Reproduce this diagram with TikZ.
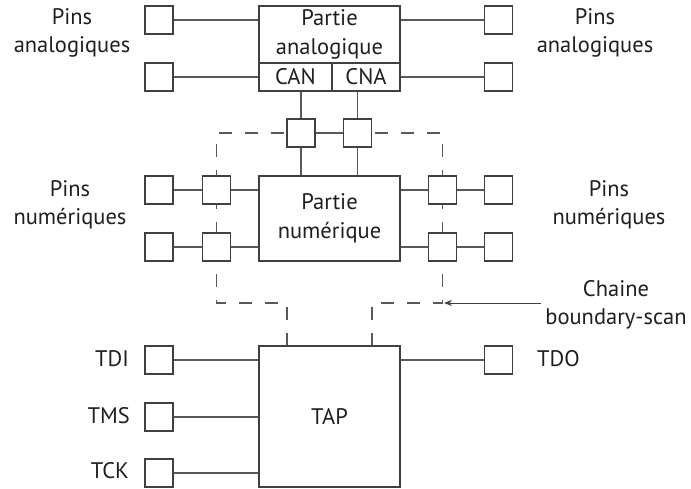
\documentclass[tikz,border=0pt]{standalone}
\usepackage{fontspec}
\setmainfont{PT Sans}
\usetikzlibrary{arrows.meta,calc}
\begin{document}
\begin{tikzpicture}[x=1pt,y=-1pt,
  every node/.style={font=\fontsize{22.5}{28.5}\selectfont, text=black!88, inner sep=0pt},
  pin/.style={draw=black!75, line width=1.1pt, fill=white, minimum width=28pt, minimum height=28pt},
  blk/.style={draw=black!75, line width=1.1pt, fill=white, align=center},
  wire/.style={draw=black!65, line width=1.1pt},
  chain/.style={draw=black!65, line width=1.1pt, dash pattern=on 13pt off 13pt},
  lbl/.style={align=center}]
\useasboundingbox (0,0) rectangle (691,488);

% dashed boundary-scan chain (drawn first, cells sit on top)
\coordinate (tapin) at (287,346);
\coordinate (tapout) at (372,346);
\coordinate (c1) at (287,303);
\coordinate (c2) at (216.5,303);
\coordinate (c3) at (216.5,133);
\coordinate (c4) at (442.5,133);
\coordinate (c5) at (442.5,303);
\coordinate (c6) at (372,303);
\draw[chain] (tapin) -- (c1) -- (c2) -- (c3) -- (c4) -- (c5) -- (c6) -- (tapout);

% analog part
\node[blk, minimum width=141pt, minimum height=57pt] (pa) at (329.5,34.5) {Partie\\analogique};
\node[blk, minimum width=73pt, minimum height=28pt] (can) at (295.5,77) {CAN};
\node[blk, minimum width=68pt, minimum height=28pt] (cna) at (366,77) {CNA};

\node[pin] (la1) at (159,20) {};
\node[pin] (la2) at (159,77) {};
\node[pin] (ra1) at (498.5,20) {};
\node[pin] (ra2) at (498.5,77) {};
\draw[wire] (la1.east) -- (la1.east -| pa.west);
\draw[wire] (la2.east) -- (can.west);
\draw[wire] (ra1.west) -- (ra1.west -| pa.east);
\draw[wire] (ra2.west) -- (cna.east);

% digital part
\node[blk, minimum width=141pt, minimum height=85pt] (pn) at (329.5,218.5) {Partie\\numérique};

\node[pin] (tc1) at (301,133) {};
\node[pin] (tc2) at (357.5,133) {};
\draw[wire] (tc1.north) -- (tc1.north |- can.south);
\draw[wire] (tc2.north) -- (tc2.north |- cna.south);
\draw[wire] (tc1.east) -- (tc2.west);
\draw[wire] (tc1.south) -- (tc1.south |- pn.north);
\draw[wire] (tc2.south) -- (tc2.south |- pn.north);

\node[pin] (ln1) at (159,190) {};
\node[pin] (ln2) at (159,247) {};
\node[pin] (lc1) at (216.5,190) {};
\node[pin] (lc2) at (216.5,247) {};
\node[pin] (rc1) at (442.5,190) {};
\node[pin] (rc2) at (442.5,247) {};
\node[pin] (rn1) at (498.5,190) {};
\node[pin] (rn2) at (498.5,247) {};
\draw[wire] (ln1.east) -- (lc1.west);
\draw[wire] (ln2.east) -- (lc2.west);
\draw[wire] (lc1.east) -- (lc1.east -| pn.west);
\draw[wire] (lc2.east) -- (lc2.east -| pn.west);
\draw[wire] (rc1.west) -- (rc1.west -| pn.east);
\draw[wire] (rc2.west) -- (rc2.west -| pn.east);
\draw[wire] (rc1.east) -- (rn1.west);
\draw[wire] (rc2.east) -- (rn2.west);

% TAP
\node[blk, minimum width=141pt, minimum height=141pt] (tap) at (329.5,416.5) {TAP};
\node[pin] (tdi) at (159,360) {};
\node[pin] (tms) at (159,417) {};
\node[pin] (tck) at (159,473) {};
\node[pin] (tdo) at (498.5,360) {};
\draw[wire] (tdi.east) -- (tdi.east -| tap.west);
\draw[wire] (tms.east) -- (tms.east -| tap.west);
\draw[wire] (tck.east) -- (tck.east -| tap.west);
\draw[wire] (tdo.west) -- (tdo.west -| tap.east);

% arrow to chain
\coordinate (arrs) at (541,303);
\draw[draw=black!75, line width=0.9pt, -{Stealth[length=8pt,width=6pt]}] (arrs) -- ($(c5)+(1.5,0)$);

% labels
\node[lbl] (tpal) at (72,33) {Pins\\analogiques};
\node[lbl] (tpar) at (595,33) {Pins\\analogiques};
\node[lbl] (tpnl) at (70,205) {Pins\\numériques};
\node[lbl] (tpnr) at (609,205) {Pins\\numériques};
\node[lbl] (tchain) at (616,305) {Chaine\\boundary-scan};
\node[anchor=east] (ttdi) at (129,359) {TDI};
\node[anchor=east] (ttms) at (130,416) {TMS};
\node[anchor=east] (ttck) at (129,471) {TCK};
\node[anchor=west] (ttdo) at (537,359) {TDO};
\end{tikzpicture}
\end{document}
